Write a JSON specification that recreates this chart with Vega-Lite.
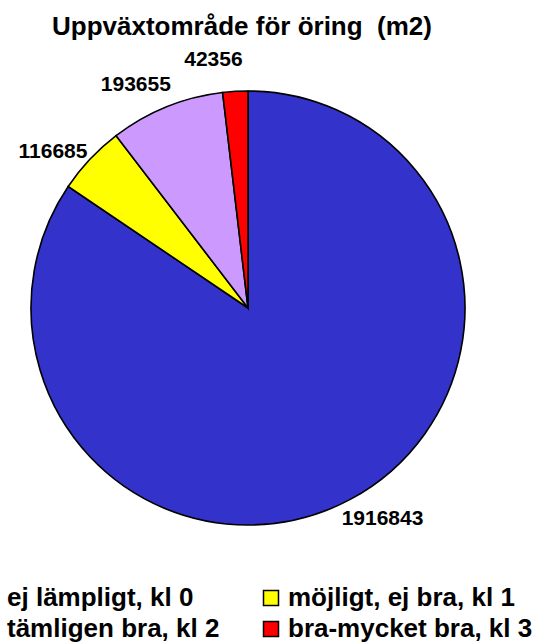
{
  "$schema": "https://vega.github.io/schema/vega-lite/v6.json",
  "width": 434,
  "height": 434,
  "autosize": "none",
  "padding": {"left": 31, "top": 91, "right": 77, "bottom": 119},
  "background": "white",
  "title": {
    "text": "Uppväxtområde för öring \u00a0(m2)",
    "font": "Liberation Sans",
    "fontSize": 26,
    "fontWeight": "bold",
    "color": "black",
    "anchor": "middle",
    "frame": "group",
    "dx": -6,
    "offset": 9
  },
  "data": {
    "values": [
      {"klass": "ej lämpligt, kl 0", "kl": 0, "value": 1916843},
      {"klass": "möjligt, ej bra, kl 1", "kl": 1, "value": 116685},
      {"klass": "tämligen bra, kl 2", "kl": 2, "value": 193655},
      {"klass": "bra-mycket bra, kl 3", "kl": 3, "value": 42356}
    ]
  },
  "encoding": {
    "theta": {"field": "value", "type": "quantitative", "stack": true},
    "order": {"field": "kl", "type": "quantitative"}
  },
  "layer": [
    {
      "mark": {"type": "arc", "outerRadius": 217, "stroke": "black", "strokeWidth": 1.6, "strokeJoin": "miter"},
      "encoding": {
        "color": {
          "field": "klass",
          "type": "nominal",
          "scale": {
            "domain": ["ej lämpligt, kl 0", "tämligen bra, kl 2", "möjligt, ej bra, kl 1", "bra-mycket bra, kl 3"],
            "range": ["#3333CC", "#CC99FF", "#FFFF00", "#FF0000"]
          },
          "legend": {
            "title": null,
            "orient": "none",
            "legendX": -54,
            "legendY": 494,
            "columns": 2,
            "columnPadding": 38,
            "rowPadding": 5,
            "padding": 0,
            "symbolType": "square",
            "symbolSize": 225,
            "symbolStrokeColor": "black",
            "symbolStrokeWidth": 1.5,
            "symbolOpacity": 1,
            "labelFont": "Liberation Sans",
            "labelFontSize": 26,
            "labelFontWeight": "bold",
            "labelColor": "black",
            "labelOffset": 4,
            "labelLimit": 0
          }
        }
      }
    },
    {
      "mark": {
        "type": "text",
        "radius": 250,
        "thetaOffset": -0.08,
        "font": "Liberation Sans",
        "fontSize": 21,
        "fontWeight": "bold",
        "color": "black"
      },
      "encoding": {
        "text": {"field": "value", "type": "quantitative", "format": "d"}
      }
    }
  ]
}
